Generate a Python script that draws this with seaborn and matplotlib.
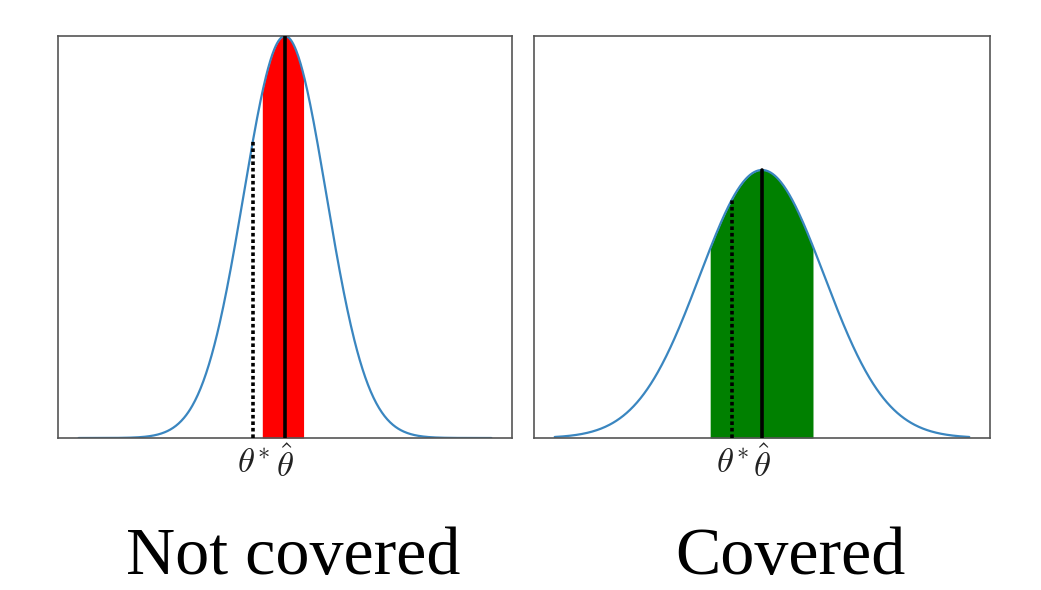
import numpy as np
import pandas as pd
import matplotlib
matplotlib.use("Agg")
import matplotlib.pyplot as plt
import seaborn as sns

# Parameters of each panel
panel_titles = ["Not covered", "Covered"]
theta_hat = [0.0, 0.0]          # estimate (centre of curve)
sigma = [1.0, 1.5]              # spread of each curve
theta_star = [-0.77, -0.72]     # true value
band_lo = [-0.55, -1.25]        # interval lower bound
band_hi = [0.45, 1.23]          # interval upper bound
band_colors = ["red", "green"]
tick_labels = [r"$\theta^{*}$", r"$\hat{\theta}$"]
x_range = [-5.0, 5.0]

sns.set_style("white")
plt.rcParams["mathtext.fontset"] = "cm"

W, H = 1041, 590
fig = plt.figure(figsize=(W / 100, H / 100), dpi=100)
positions = [[58/W, 152/H, 454/W, 402/H],
             [534/W, 152/H, 456/W, 402/H]]
title_x = [293/W, 790/W]

def pdf(x, m, s):
    return np.exp(-0.5 * ((x - m) / s) ** 2) / (s * np.sqrt(2 * np.pi))

ymax = pdf(0, 0, min(sigma))

for i in range(2):
    ax = fig.add_axes(positions[i])
    x = np.linspace(x_range[0], x_range[1], 600)
    y = pdf(x, theta_hat[i], sigma[i])
    df = pd.DataFrame({"x": x, "y": y})
    xb = np.linspace(band_lo[i], band_hi[i], 200)
    ax.fill_between(xb, 0, pdf(xb, theta_hat[i], sigma[i]), color=band_colors[i], lw=0, zorder=1)
    sns.lineplot(data=df, x="x", y="y", ax=ax, color="#3a86c0", lw=1.6, zorder=2)
    ax.plot([theta_hat[i], theta_hat[i]], [0, pdf(theta_hat[i], theta_hat[i], sigma[i])],
            color="black", lw=2.6, zorder=3)
    ax.plot([theta_star[i], theta_star[i]], [0, pdf(theta_star[i], theta_hat[i], sigma[i])],
            color="black", lw=2.6, ls=(0, (1, 0.8)), zorder=3)
    ax.set_ylim(0, ymax)
    ax.margins(x=0.05)
    ax.set_yticks([])
    ax.set_xticks([theta_star[i], theta_hat[i]])
    ax.set_xticklabels(tick_labels, fontsize=25)
    ax.tick_params(axis="x", length=5, width=1, color="#555555", pad=1, labelcolor="#222222")
    for sp in ax.spines.values():
        sp.set_color("#555555")
        sp.set_linewidth(1.2)
        sp.set_visible(True)
    ax.set_ylabel("")
    ax.set_xlabel("")
    fig.text(title_x[i], 2/H, panel_titles[i], family="Liberation Serif", fontsize=49,
             ha="center", va="bottom", color="black")

fig.savefig("out.png", dpi=100)
